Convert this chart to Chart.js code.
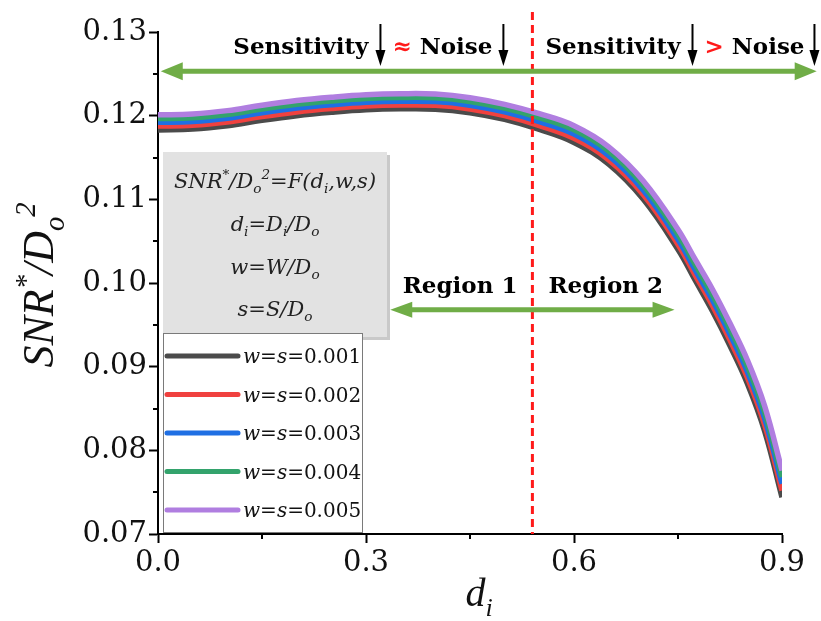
<!DOCTYPE html>
<html>
<head>
<meta charset="utf-8">
<script src="https://cdn.jsdelivr.net/npm/chart.js@4.4.1/dist/chart.umd.min.js"></script>
<style>
  html, body { margin: 0; padding: 0; background: #fff; }
</style>
</head>
<body>
<canvas id="snrChart" width="821" height="621"></canvas>
<script>
// d_i values along x
var dVals = [0, 0.05, 0.1, 0.15, 0.2, 0.25, 0.3, 0.35, 0.4, 0.45, 0.5, 0.55, 0.6, 0.65, 0.7, 0.75, 0.775, 0.8, 0.825, 0.85, 0.875, 0.9];
// SNR*/Do^2 for each w=s
var snrWs001 = [0.11830, 0.11840, 0.11880, 0.11945, 0.12000, 0.12040, 0.12070, 0.12082, 0.12078, 0.12035, 0.11955, 0.11835, 0.11680, 0.11420, 0.11000, 0.10400, 0.10030, 0.09660, 0.09250, 0.08800, 0.08230, 0.07440];
var snrWs002 = [0.11875, 0.11885, 0.11925, 0.11990, 0.12045, 0.12085, 0.12115, 0.12127, 0.12123, 0.12080, 0.12000, 0.11882, 0.11730, 0.11472, 0.11055, 0.10460, 0.10092, 0.09725, 0.09317, 0.08870, 0.08305, 0.07520];
var snrWs003 = [0.11920, 0.11930, 0.11970, 0.12035, 0.12090, 0.12130, 0.12160, 0.12172, 0.12168, 0.12125, 0.12045, 0.11929, 0.11780, 0.11524, 0.11110, 0.10520, 0.10154, 0.09790, 0.09384, 0.08940, 0.08380, 0.07600];
var snrWs004 = [0.11965, 0.11975, 0.12015, 0.12080, 0.12135, 0.12175, 0.12205, 0.12217, 0.12213, 0.12170, 0.12090, 0.11976, 0.11830, 0.11576, 0.11165, 0.10580, 0.10216, 0.09855, 0.09451, 0.09010, 0.08455, 0.07680];
var snrWs005 = [0.12010, 0.12020, 0.12060, 0.12125, 0.12180, 0.12220, 0.12250, 0.12262, 0.12258, 0.12215, 0.12135, 0.12023, 0.11880, 0.11628, 0.11220, 0.10640, 0.10278, 0.09920, 0.09518, 0.09080, 0.08530, 0.07760];
var seriesLabels = ['0.001', '0.002', '0.003', '0.004', '0.005'];
var seriesColors = ['#4b4b4b', '#f0413f', '#1f6fe3', '#33a36c', '#b07ee0'];

var xMinorTicks = [0.15, 0.45, 0.75];
var yMinorTicks = [0.075, 0.085, 0.095, 0.105, 0.115, 0.125];
var regionSplit = 0.54;     // red dashed line
var topArrowY = 0.1253;     // wide green arrow
var topArrowX = [0.004, 0.95];
var regionArrowY = 0.0968;
var regionArrowX = [0.335, 0.745];

var serif = '"DejaVu Serif", "Liberation Serif", serif';
var libSerif = '"Liberation Serif", serif';
var green = '#70ad47';

function toPoints(ys) {
  return dVals.map(function(d, i) { return {x: d, y: ys[i]}; });
}

var allSeries = [snrWs001, snrWs002, snrWs003, snrWs004, snrWs005];
var datasets = allSeries.map(function(ys, i) {
  return {
    label: 'w=s=' + seriesLabels[i],
    data: toPoints(ys),
    borderColor: seriesColors[i],
    borderWidth: 5.5,
    pointRadius: 0,
    tension: 0.4,
    clip: 0,
    order: allSeries.length - i   // last one drawn on top
  };
});

function font(size, italic, bold, fam) {
  return (italic ? 'italic ' : '') + (bold ? 'bold ' : '') + size + 'px ' + (fam || serif);
}

// parts: [text, 'n'|'sub'|'sup', italic]
function richWidth(ctx, parts, size, fam) {
  var w = 0;
  parts.forEach(function(p) {
    var s = p[1] === 'n' ? size : size * 0.65;
    ctx.font = font(s, p[2], false, fam);
    w += ctx.measureText(p[0]).width;
  });
  return w;
}
function drawRich(ctx, parts, x, yb, size, align, fam) {
  var w = richWidth(ctx, parts, size, fam);
  var cx = align === 'center' ? x - w / 2 : (align === 'right' ? x - w : x);
  ctx.textAlign = 'left';
  ctx.textBaseline = 'alphabetic';
  parts.forEach(function(p) {
    var s = p[1] === 'n' ? size : size * 0.65;
    var dy = p[1] === 'sub' ? size * 0.25 : (p[1] === 'sup' ? -size * 0.42 : 0);
    ctx.font = font(s, p[2], false, fam);
    ctx.fillText(p[0], cx, yb + dy);
    cx += ctx.measureText(p[0]).width;
  });
}

function dblArrow(ctx, x1, x2, yy, lw, hl, hw) {
  ctx.strokeStyle = green; ctx.fillStyle = green; ctx.lineWidth = lw;
  ctx.beginPath(); ctx.moveTo(x1 + hl - 2, yy); ctx.lineTo(x2 - hl + 2, yy); ctx.stroke();
  ctx.beginPath(); ctx.moveTo(x1, yy); ctx.lineTo(x1 + hl, yy - hw); ctx.lineTo(x1 + hl, yy + hw); ctx.closePath(); ctx.fill();
  ctx.beginPath(); ctx.moveTo(x2, yy); ctx.lineTo(x2 - hl, yy - hw); ctx.lineTo(x2 - hl, yy + hw); ctx.closePath(); ctx.fill();
}

function downArrow(ctx, ax, y1, y2) {
  ctx.strokeStyle = '#000'; ctx.fillStyle = '#000'; ctx.lineWidth = 2;
  ctx.beginPath(); ctx.moveTo(ax, y1); ctx.lineTo(ax, y2 - 12); ctx.stroke();
  ctx.beginPath(); ctx.moveTo(ax, y2); ctx.lineTo(ax - 5, y2 - 16); ctx.lineTo(ax + 5, y2 - 16); ctx.closePath(); ctx.fill();
}

// sensitivity / noise header: list of pieces drawn left to right
var headSize = 23;
function drawHeader(ctx, x0, pieces) {
  var cx = x0;
  ctx.textAlign = 'left';
  ctx.textBaseline = 'alphabetic';
  pieces.forEach(function(p) {
    if (p.arrow) {
      downArrow(ctx, cx + p.arrow, 24, 66);
      cx += p.arrow * 2;
      return;
    }
    ctx.font = font(headSize, false, true);
    ctx.fillStyle = p.c || '#000';
    ctx.fillText(p.t, cx, 54);
    cx += ctx.measureText(p.t).width + (p.gap || 0);
  });
  return cx;
}

const decorPlugin = {
  id: 'decor',
  afterDraw(chart) {
    const {ctx, chartArea: {left, right, top, bottom}, scales: {x, y}} = chart;
    ctx.save();

    // minor ticks
    ctx.strokeStyle = '#000'; ctx.lineWidth = 2;
    yMinorTicks.forEach(function(v) {
      var py = Math.round(y.getPixelForValue(v));
      ctx.beginPath(); ctx.moveTo(left - 5, py); ctx.lineTo(left, py); ctx.stroke();
    });
    xMinorTicks.forEach(function(v) {
      var px = Math.round(x.getPixelForValue(v));
      ctx.beginPath(); ctx.moveTo(px, bottom); ctx.lineTo(px, bottom + 5); ctx.stroke();
    });

    // red dashed split line
    var sx = x.getPixelForValue(regionSplit);
    ctx.setLineDash([8, 5]);
    ctx.strokeStyle = '#ff1a1a'; ctx.lineWidth = 3;
    ctx.beginPath(); ctx.moveTo(sx, top - 20); ctx.lineTo(sx, bottom); ctx.stroke();
    ctx.setLineDash([]);

    // top arrow + header text
    dblArrow(ctx, x.getPixelForValue(topArrowX[0]), x.getPixelForValue(topArrowX[1]),
             y.getPixelForValue(topArrowY), 5, 22, 9);
    var leftPieces = [{t: 'Sensitivity'}, {arrow: 12}, {t: '\u2248', c: '#ff1a1a', gap: 8}, {t: 'Noise'}, {arrow: 11}];
    ctx.font = font(headSize, false, true);
    // measure left group so that it ends just before the split line
    var lw = 0;
    leftPieces.forEach(function(p) { lw += p.arrow ? p.arrow * 2 : ctx.measureText(p.t).width + (p.gap || 0); });
    drawHeader(ctx, sx - 18 - lw, leftPieces);
    drawHeader(ctx, sx + 13, [{t: 'Sensitivity'}, {arrow: 12}, {t: '>', c: '#ff1a1a', gap: 8}, {t: 'Noise'}, {arrow: 10}]);

    // region arrow + labels
    var ry = y.getPixelForValue(regionArrowY);
    dblArrow(ctx, x.getPixelForValue(regionArrowX[0]), x.getPixelForValue(regionArrowX[1]), ry, 5, 22, 8);
    ctx.font = font(headSize, false, true);
    ctx.fillStyle = '#000';
    ctx.textBaseline = 'alphabetic';
    ctx.textAlign = 'right'; ctx.fillText('Region 1', sx - 15, ry - 17);
    ctx.textAlign = 'left';  ctx.fillText('Region 2', sx + 16, ry - 17);

    // info box with shadow
    var bx = left + 5, by = top + 120, bw = 224, bh = 185;
    ctx.fillStyle = '#c9c9c9';
    ctx.fillRect(bx + 3, by + 3, bw, bh);
    ctx.fillStyle = '#e2e2e2';
    ctx.fillRect(bx, by, bw, bh);
    ctx.fillStyle = '#222';
    var bcx = bx + bw / 2;
    drawRich(ctx, [['SNR', 'n', true], ['*', 'sup', true], ['/D', 'n', true], ['o', 'sub', true], ['2', 'sup', true],
                   ['=F(d', 'n', true], ['i', 'sub', true], [',w,s)', 'n', true]], bcx, by + 36, 21, 'center');
    drawRich(ctx, [['d', 'n', true], ['i', 'sub', true], ['=D', 'n', true], ['i', 'sub', true], ['/D', 'n', true], ['o', 'sub', true]], bcx, by + 79, 21, 'center');
    drawRich(ctx, [['w=W/D', 'n', true], ['o', 'sub', true]], bcx, by + 122, 21, 'center');
    drawRich(ctx, [['s=S/D', 'n', true], ['o', 'sub', true]], bcx, by + 164, 21, 'center');

    // legend box
    var lx = left + 5, ly = bottom - 201, lwid = 199, lh = 199;
    ctx.fillStyle = '#fff';
    ctx.fillRect(lx, ly, lwid, lh);
    ctx.strokeStyle = '#7a7a7a'; ctx.lineWidth = 1;
    ctx.strokeRect(lx + 0.5, ly + 0.5, lwid, lh);
    chart.data.datasets.forEach(function(ds, i) {
      var ey = ly + 23 + i * 38.5;
      ctx.strokeStyle = ds.borderColor; ctx.lineWidth = 5; ctx.lineCap = 'round';
      ctx.beginPath(); ctx.moveTo(lx + 4, ey); ctx.lineTo(lx + 75, ey); ctx.stroke();
      ctx.lineCap = 'butt';
      ctx.fillStyle = '#111';
      drawRich(ctx, [['w=s=', 'n', true], [seriesLabels[i], 'n', false]], lx + 80, ey + 7, 20, 'left');
    });

    // axis titles
    ctx.fillStyle = '#111';
    drawRich(ctx, [['d', 'n', true], ['i', 'sub', true]], (left + right) / 2 + 9, 606, 40, 'center', libSerif);
    ctx.translate(53, (top + bottom) / 2 + 2);
    ctx.rotate(-Math.PI / 2);
    drawRich(ctx, [['SNR', 'n', true], ['*', 'sup', true], ['/D', 'n', true], ['o', 'sub', true], ['2', 'sup', true]], 0, 0, 44, 'center', libSerif);

    ctx.restore();
  }
};

var tickFont = {family: serif, size: 29};
new Chart(document.getElementById('snrChart'), {
  type: 'line',
  data: {datasets: datasets},
  plugins: [decorPlugin],
  options: {
    responsive: false,
    animation: false,
    layout: {padding: {left: 0, top: 32, right: 39, bottom: 0}},
    plugins: {legend: {display: false}, title: {display: false}, tooltip: {enabled: false}},
    scales: {
      x: {
        type: 'linear', min: 0, max: 0.9,
        afterFit: function(s) { s.height = 87; },
        ticks: {stepSize: 0.3, autoSkip: false, maxRotation: 0, padding: 3, color: '#111', font: tickFont,
                callback: function(v) { return v.toFixed(1); }},
        grid: {drawOnChartArea: false, drawTicks: true, tickLength: 9, tickWidth: 2, tickColor: '#000'},
        border: {display: true, color: '#000', width: 2}
      },
      y: {
        min: 0.07, max: 0.13,
        afterFit: function(s) { s.width = 158; },
        ticks: {stepSize: 0.01, padding: 2, color: '#111', font: tickFont,
                callback: function(v) { return v.toFixed(2); }},
        grid: {drawOnChartArea: false, drawTicks: true, tickLength: 9, tickWidth: 2, tickColor: '#000'},
        border: {display: true, color: '#000', width: 2}
      }
    }
  }
});
</script>
</body>
</html>
